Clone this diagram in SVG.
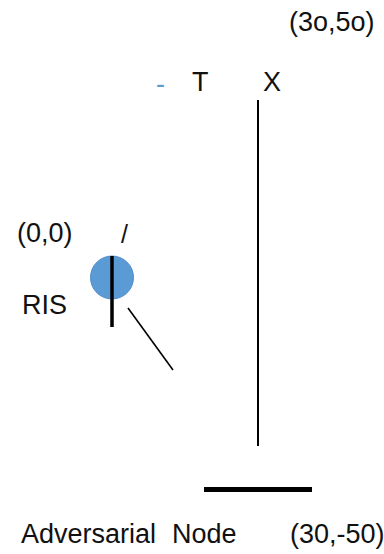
<svg xmlns="http://www.w3.org/2000/svg" width="384" height="554" viewBox="0 0 384 554">
  <style>
    .lbl { font-family: "Liberation Sans", Arial, sans-serif; font-size: 27px; fill: #111111; }
    .wire { stroke: #000000; fill: none; }
  </style>
  <rect width="384" height="554" fill="#ffffff"/>

  <!-- coordinate labels -->
  <g id="coord-top">
    <text class="lbl" x="289" y="31">(3o,5o)</text>
  </g>
  <g id="coord-origin">
    <text class="lbl" x="17" y="242">(0,0)</text>
  </g>
  <g id="coord-bottom">
    <text class="lbl" x="290" y="543">(30,-50)</text>
  </g>

  <!-- transmitter label -->
  <g id="tx">
    <text class="lbl" x="156" y="93" style="fill:#5B9BD5">-</text>
    <text class="lbl" x="192" y="91">T</text>
    <text class="lbl" x="263" y="91">X</text>
  </g>

  <!-- RIS element -->
  <g id="ris">
    <text class="lbl" x="22" y="314">RIS</text>
    <text class="lbl" x="121" y="243" style="font-size:25px">/</text>
    <circle cx="112" cy="277.5" r="21.5" fill="#5B9BD5" stroke="#4F8CC9" stroke-width="1"/>
    <line x1="112" y1="256" x2="112" y2="327" stroke="#000000" stroke-width="3.5"/>
  </g>

  <!-- adversarial node -->
  <g id="adversary">
    <rect x="204" y="487" width="108" height="5" fill="#000000"/>
    <text class="lbl" x="21" y="543">Adversarial</text>
    <text class="lbl" x="172" y="543">Node</text>
  </g>

  <!-- links -->
  <g id="connectors">
    <line class="wire" x1="258" y1="100" x2="258" y2="446" stroke-width="2"/>
    <line class="wire" x1="128" y1="308" x2="173" y2="370" stroke-width="1.6"/>
  </g>
</svg>
